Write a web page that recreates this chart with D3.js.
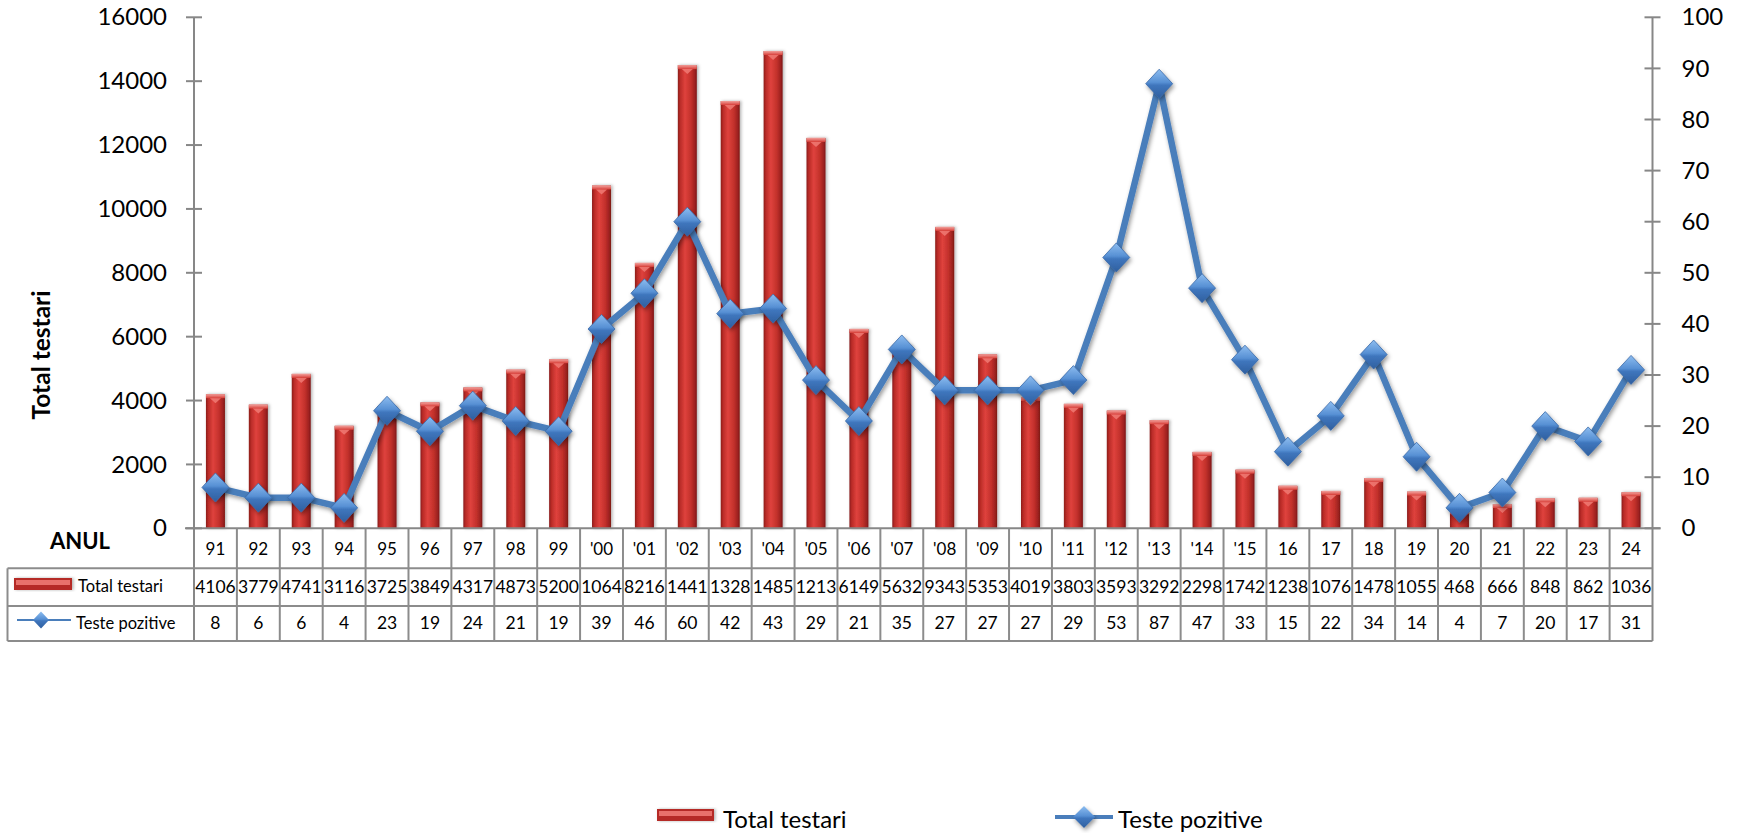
<!DOCTYPE html>
<html>
<head>
<meta charset="utf-8">
<script src="https://cdn.jsdelivr.net/npm/d3@7"></script>
<style>
  html, body { margin: 0; padding: 0; background: #fff; }
  svg { display: block; font-family: Lato, "Open Sans", sans-serif; }
</style>
</head>
<body>
<svg id="chart" width="1740" height="833"></svg>
<script>
// ---- data ----
const years = ["91","92","93","94","95","96","97","98","99","'00","'01","'02","'03","'04","'05","'06","'07","'08","'09","'10","'11","'12","'13","'14","'15","16","17","18","19","20","21","22","23","24"];
const totalTestari = [4106,3779,4741,3116,3725,3849,4317,4873,5200,10640,8216,14410,13285,14850,12130,6149,5632,9343,5353,4019,3803,3593,3292,2298,1742,1238,1076,1478,1055,468,666,848,862,1036];
const testePozitive = [8,6,6,4,23,19,24,21,19,39,46,60,42,43,29,21,35,27,27,27,29,53,87,47,33,15,22,34,14,4,7,20,17,31];
const leftTicks = [0,2000,4000,6000,8000,10000,12000,14000,16000];
const rightTicks = [0,10,20,30,40,50,60,70,80,90,100];
const seriesNames = ["Total testari", "Teste pozitive"];
const axisTitle = "Total testari";
const categoryTitle = "ANUL";

// ---- layout ----
const W = 1740, H = 833;
const L = 194, R = 1652.5, T = 17.3, B = 528.3;
const rowY = [528.3, 568.3, 606, 641];
const tableLeft = 7.5;
const axisColor = "#878787";
const barW = 19;
const capH = 3;

const svg = d3.select("#chart");
const defs = svg.append("defs");

// bar gradient
const bg = defs.append("linearGradient").attr("id","barGrad").attr("x1","0").attr("x2","1").attr("y1","0").attr("y2","0");
[["0%","#8a1c1a"],["12%","#b92b27"],["38%","#df423d"],["70%","#c2302b"],["90%","#9d2220"],["100%","#7c1715"]]
  .forEach(([o,c]) => bg.append("stop").attr("offset",o).attr("stop-color",c));
const capG = defs.append("linearGradient").attr("id","capGrad").attr("x1","0").attr("x2","0").attr("y1","0").attr("y2","1");
[["0%","#f2a09b"],["100%","#d8403a"]].forEach(([o,c]) => capG.append("stop").attr("offset",o).attr("stop-color",c));
const dg = defs.append("linearGradient").attr("id","diaGrad").attr("x1","0").attr("x2","0").attr("y1","0").attr("y2","1");
[["0%","#8dbdf0"],["45%","#5790d4"],["55%","#3f76bd"],["100%","#2f5f9f"]].forEach(([o,c]) => dg.append("stop").attr("offset",o).attr("stop-color",c));
const sh = defs.append("filter").attr("id","shadow").attr("x","-50%").attr("y","-50%").attr("width","200%").attr("height","200%");
sh.append("feDropShadow").attr("dx",1.5).attr("dy",2.5).attr("stdDeviation",2).attr("flood-color","#000").attr("flood-opacity",0.4);
const shb = defs.append("filter").attr("id","barShadow").attr("x","-50%").attr("y","-10%").attr("width","200%").attr("height","120%");
shb.append("feDropShadow").attr("dx",1.5).attr("dy",0).attr("stdDeviation",1.5).attr("flood-color","#000").attr("flood-opacity",0.3);

// ---- scales ----
const x = d3.scaleBand().domain(years).range([L, R]).paddingInner(0).paddingOuter(0);
const yL = d3.scaleLinear().domain([0,16000]).range([B, T]);
const yR = d3.scaleLinear().domain([0,100]).range([B, T]);
const cx = d => x(d) + x.bandwidth()/2;

// ---- bars ----
const bars = svg.append("g");
years.forEach((yr,i) => {
  const v = totalTestari[i];
  const x0 = cx(yr) - barW/2, y0 = yL(v) - capH, h = B - y0;
  const g = bars.append("g").attr("filter","url(#barShadow)");
  g.append("rect").attr("x",x0).attr("y",y0).attr("width",barW).attr("height",h).attr("fill","url(#barGrad)");
  g.append("rect").attr("x",x0).attr("y",y0).attr("width",barW).attr("height",Math.min(4,h)).attr("fill","url(#capGrad)");
  if (h > 10) g.append("path").attr("d",`M${x0+4},${y0+4}L${x0+barW-4},${y0+4}L${x0+barW/2},${y0+9}Z`).attr("fill","#f07a74").attr("opacity",0.85);
});

// ---- axes ----
const axL = svg.append("g").attr("transform",`translate(${L},0)`)
  .call(d3.axisLeft(yL).tickValues(leftTicks).tickSize(0).tickPadding(27).tickFormat(d3.format("d")));
const axR = svg.append("g").attr("transform",`translate(${R},0)`)
  .call(d3.axisRight(yR).tickValues(rightTicks).tickSize(0).tickPadding(29).tickFormat(d3.format("d")));
[axL, axR].forEach(a => {
  a.select(".domain").remove();
  a.selectAll("text").attr("font-size",24).attr("fill","#000").attr("font-family","Lato, sans-serif");
});
// axis lines & crossing ticks
svg.append("line").attr("x1",L).attr("x2",L).attr("y1",T).attr("y2",rowY[3]).attr("stroke",axisColor).attr("stroke-width",2);
svg.append("line").attr("x1",R).attr("x2",R).attr("y1",T).attr("y2",rowY[3]).attr("stroke",axisColor).attr("stroke-width",2);
leftTicks.forEach(t => svg.append("line").attr("x1",L-8).attr("x2",L+8).attr("y1",yL(t)).attr("y2",yL(t)).attr("stroke",axisColor).attr("stroke-width",2));
rightTicks.forEach(t => svg.append("line").attr("x1",R-8).attr("x2",R+8).attr("y1",yR(t)).attr("y2",yR(t)).attr("stroke",axisColor).attr("stroke-width",2));
svg.append("line").attr("x1",L-9).attr("x2",R+8).attr("y1",B).attr("y2",B).attr("stroke",axisColor).attr("stroke-width",2);

// ---- line + markers ----
const line = d3.line().x((d,i) => cx(years[i])).y(d => yR(d));
svg.append("path").datum(testePozitive).attr("d",line).attr("fill","none")
  .attr("stroke","#4a7ebb").attr("stroke-width",6.5).attr("stroke-linejoin","round").attr("filter","url(#shadow)");
const diamond = (x0,y0,w,h) => `M${x0},${y0-h/2}L${x0+w/2},${y0}L${x0},${y0+h/2}L${x0-w/2},${y0}Z`;
svg.append("g").selectAll("path").data(testePozitive).join("path")
  .attr("d",(d,i) => diamond(cx(years[i]), yR(d), 27, 29))
  .attr("fill","url(#diaGrad)").attr("stroke","#3a6aa8").attr("stroke-width",0.8).attr("filter","url(#shadow)");

// ---- data table ----
const tbl = svg.append("g");
const gridC = "#8c8c8c";
[1,2,3].forEach(k => tbl.append("line").attr("x1",tableLeft).attr("x2",R).attr("y1",rowY[k]).attr("y2",rowY[k]).attr("stroke",gridC).attr("stroke-width",2));
tbl.append("line").attr("x1",tableLeft).attr("x2",tableLeft).attr("y1",rowY[1]).attr("y2",rowY[3]).attr("stroke",gridC).attr("stroke-width",2);
years.forEach((yr,i) => {
  if (i > 0) tbl.append("line").attr("x1",x(yr)).attr("x2",x(yr)).attr("y1",B).attr("y2",rowY[3]).attr("stroke",gridC).attr("stroke-width",2);
  const c = cx(yr);
  tbl.append("text").attr("x",c).attr("y",(rowY[0]+rowY[1])/2+2).attr("text-anchor","middle").attr("dominant-baseline","middle")
    .attr("font-size",17).text(yr);
  const s = String(totalTestari[i]);
  tbl.append("text").attr("x",c).attr("y",(rowY[1]+rowY[2])/2+1).attr("text-anchor","middle").attr("dominant-baseline","middle")
    .attr("font-size",17.5).text(s.length > 4 ? s.slice(0,4) : s);
  tbl.append("text").attr("x",c).attr("y",(rowY[2]+rowY[3])/2+1).attr("text-anchor","middle").attr("dominant-baseline","middle")
    .attr("font-size",17.5).text(testePozitive[i]);
});
// row legend keys
const keyBar = (g, x0, y0, w, h) => {
  g.append("rect").attr("x",x0).attr("y",y0).attr("width",w).attr("height",h).attr("fill","#b52b27").attr("filter","url(#barShadow)");
  g.append("rect").attr("x",x0+2).attr("y",y0+2).attr("width",w-4).attr("height",h/2-1).attr("fill","#e8716b");
};
keyBar(tbl, 14, 578, 58, 12);
tbl.append("text").attr("x",78).attr("y",(rowY[1]+rowY[2])/2+1).attr("dominant-baseline","middle").attr("font-size",16.5).text(seriesNames[0]);
tbl.append("line").attr("x1",17).attr("x2",71).attr("y1",620).attr("y2",620).attr("stroke","#4a7ebb").attr("stroke-width",2);
tbl.append("path").attr("d",diamond(41,620,16,17)).attr("fill","url(#diaGrad)");
tbl.append("text").attr("x",76).attr("y",(rowY[2]+rowY[3])/2+1).attr("dominant-baseline","middle").attr("font-size",16.5).text(seriesNames[1]);

// titles
svg.append("text").attr("transform",`translate(44,355) rotate(-90)`).attr("text-anchor","middle")
  .attr("dominant-baseline","middle").attr("font-size",24).attr("font-weight","bold")
  .attr("textLength",129).attr("lengthAdjust","spacingAndGlyphs").text(axisTitle);
svg.append("text").attr("x",80).attr("y",549).attr("text-anchor","middle").attr("font-size",22).attr("font-weight","bold").text(categoryTitle);

// ---- bottom legend ----
const lg = svg.append("g");
const ly = 820;
keyBar(lg, 657, ly-11, 57, 12);
lg.append("text").attr("x",723).attr("y",ly+2).attr("dominant-baseline","middle").attr("font-size",24).text(seriesNames[0]);
lg.append("line").attr("x1",1055).attr("x2",1113).attr("y1",ly-3).attr("y2",ly-3).attr("stroke","#4a7ebb").attr("stroke-width",4);
lg.append("path").attr("d",diamond(1084,ly-3,22,22)).attr("fill","url(#diaGrad)").attr("filter","url(#shadow)");
lg.append("text").attr("x",1118).attr("y",ly+2).attr("dominant-baseline","middle").attr("font-size",24).text(seriesNames[1]);
</script>
</body>
</html>
